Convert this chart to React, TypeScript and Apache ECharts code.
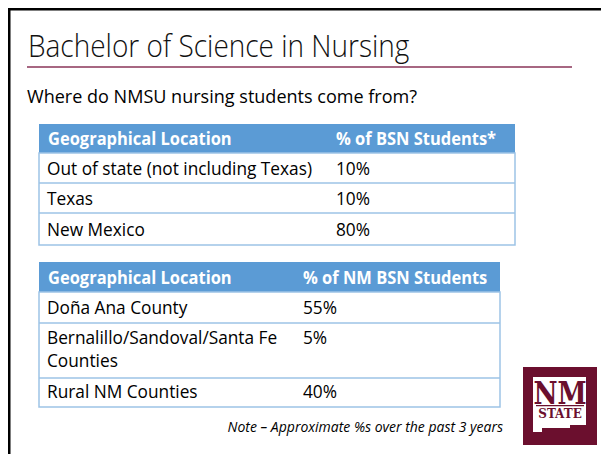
import React, { useEffect, useRef } from "react";
import * as echarts from "echarts";

const TITLE = "Bachelor of Science in Nursing";
const SUBTITLE = "Where do NMSU nursing students come from?";
const TABLE1_HEADERS = ["Geographical Location", "% of BSN Students*"];
const TABLE1_LOCATIONS = ["Out of state (not including Texas)", "Texas", "New Mexico"];
const TABLE1_PERCENTS = ["10%", "10%", "80%"];
const TABLE2_HEADERS = ["Geographical Location", "% of NM BSN Students"];
const TABLE2_LOCATIONS = [["Doña Ana County"], ["Bernalillo/Sandoval/Santa Fe", "Counties"], ["Rural NM Counties"]];
const TABLE2_PERCENTS = ["55%", "5%", "40%"];
const NOTE = "Note – Approximate %s over the past 3 years";

const FONT = "'Open Sans', sans-serif";
const HEADER_BLUE = "#5b9bd5";
const LINE_BLUE = "#9dc3e6";
const MAROON = "#6b0f2e";

function txt(x: number, y: number, s: string, size: number, o: any = {}) {
  return {
    type: "text",
    x,
    y,
    scaleX: o.sx ?? 1,
    style: {
      text: s,
      fontSize: size,
      fontFamily: o.font ?? FONT,
      fontWeight: o.weight ?? "normal",
      fontStyle: o.style ?? "normal",
      fill: o.fill ?? "#000",
      align: o.align ?? "left",
      verticalAlign: "middle",
    },
  };
}

function table(
  left: number,
  right: number,
  top: number,
  headerH: number,
  rowBottoms: number[],
  col2: number,
  headers: string[],
  locs: string[][],
  pcts: string[],
  lineCenters: number[][]
) {
  const els: any[] = [];
  els.push({ type: "rect", shape: { x: left, y: top, width: right - left, height: headerH }, style: { fill: HEADER_BLUE } });
  const bottom = rowBottoms[rowBottoms.length - 1];
  els.push({ type: "rect", shape: { x: left, y: top + headerH, width: right - left, height: bottom - top - headerH }, style: { fill: "none", stroke: LINE_BLUE, lineWidth: 1.5 } });
  rowBottoms.slice(0, -1).forEach((yb) => {
    els.push({ type: "line", shape: { x1: left, y1: yb, x2: right, y2: yb }, style: { stroke: LINE_BLUE, lineWidth: 1.5 } });
  });
  const hy = top + headerH / 2;
  els.push(txt(left + 9, hy, headers[0], 18, { weight: "bold", fill: "#fff", sx: 0.915 }));
  els.push(txt(col2, hy, headers[1], 18, { weight: "bold", fill: "#fff", sx: 0.915 }));
  locs.forEach((lines, i) => {
    lines.forEach((ln, j) => {
      els.push(txt(left + 8, lineCenters[i][j], ln, 18, { sx: 0.96 }));
    });
    els.push(txt(col2, lineCenters[i][0], pcts[i], 18, { sx: 0.96 }));
  });
  return els;
}

export default function App() {
  const ref = useRef<HTMLDivElement>(null);
  useEffect(() => {
    document.body.style.margin = "0";
    const chart = echarts.init(ref.current!, null, { renderer: "svg" });
    echarts.graphic.registerShape(
      "nmshape",
      echarts.graphic.extendPath("M0 0 L53 0 L53 48 L37 48 L37 51 L9 51 L9 55 L0 55 Z", {})
    );
    const graphics: any[] = [
      { type: "rect", shape: { x: 0, y: 0, width: 601, height: 454 }, style: { fill: "#fff" } },
      { type: "rect", shape: { x: 8, y: 8, width: 593, height: 2.5 }, style: { fill: "#000" } },
      { type: "rect", shape: { x: 8, y: 8, width: 2.5, height: 446 }, style: { fill: "#000" } },
      txt(28, 45, TITLE, 32, { fill: "#111", weight: 300, sx: 0.875 }),
      { type: "line", shape: { x1: 27, y1: 67, x2: 572, y2: 67 }, style: { stroke: "#8a3559", lineWidth: 1.5 } },
      txt(27, 95, SUBTITLE, 19, { sx: 0.95 }),
      ...table(39, 515, 124, 29, [183, 213, 245], 336, TABLE1_HEADERS, TABLE1_LOCATIONS.map((s) => [s]), TABLE1_PERCENTS,
        [[168], [198], [229]]),
      ...table(39, 500, 262, 30, [323, 378, 407], 303, TABLE2_HEADERS, TABLE2_LOCATIONS, TABLE2_PERCENTS,
        [[307], [337, 360], [391]]),
      txt(503, 426, NOTE, 14, { style: "italic", align: "right", sx: 1.0 }),
      // logo
      { type: "rect", shape: { x: 523, y: 367, width: 74, height: 78 }, style: { fill: MAROON } },
      { type: "nmshape", x: 533, y: 377, style: { fill: "#fff" } },
      txt(560, 393, "NM", 31, { font: "'DejaVu Serif', serif", weight: "bold", fill: MAROON, align: "center", sx: 0.85 }),
      { type: "rect", shape: { x: 536, y: 405, width: 48, height: 1.2 }, style: { fill: MAROON } },
      txt(560, 413, "STATE", 13, { font: "'DejaVu Serif', serif", weight: "bold", fill: MAROON, align: "center", sx: 0.92 }),
    ];
    chart.setOption({ animation: false, graphic: { elements: graphics } });
    return () => chart.dispose();
  }, []);
  return <div ref={ref} style={{ width: 601, height: 454 }} />;
}
